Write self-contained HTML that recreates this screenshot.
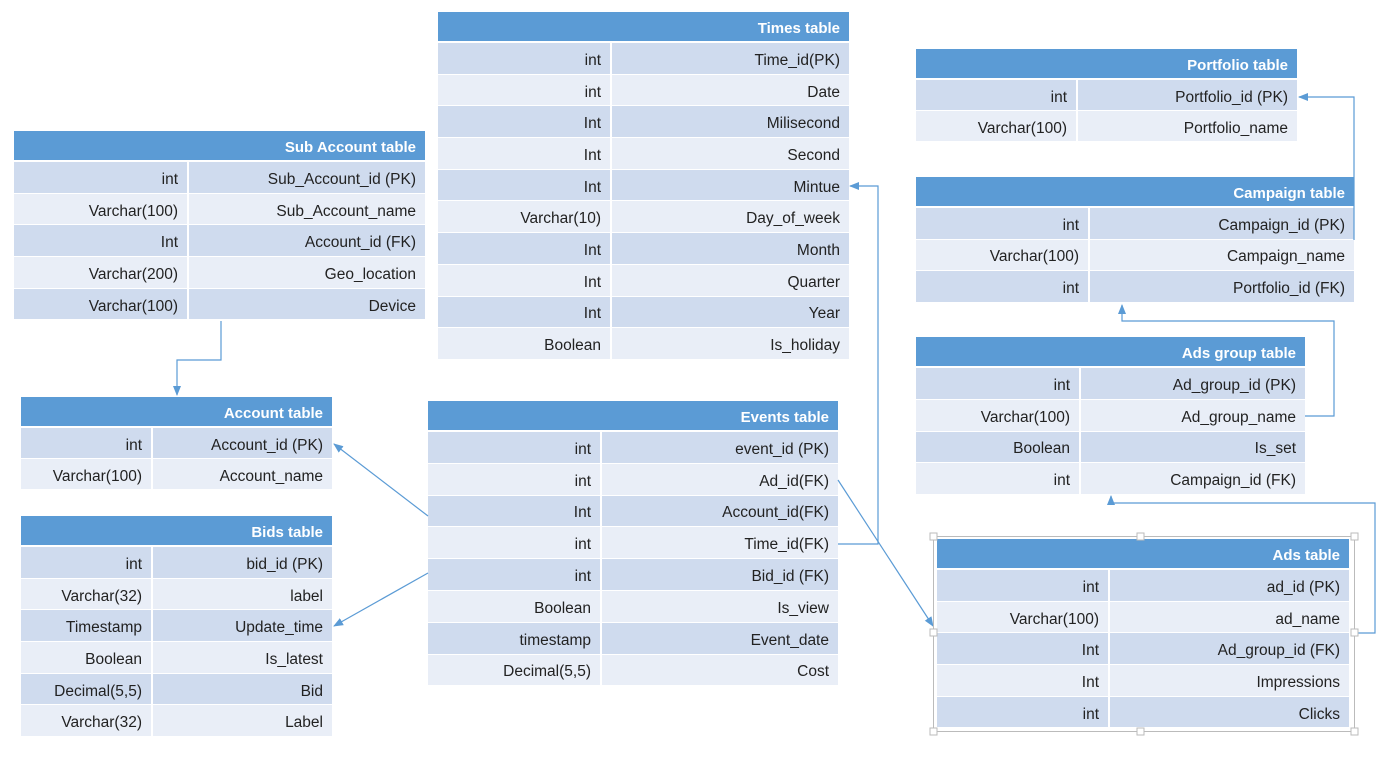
<!DOCTYPE html>
<html><head><meta charset="utf-8"><style>
body{margin:0;width:1391px;height:773px;background:#fff;position:relative;overflow:hidden;font-family:"Liberation Sans",Arial,sans-serif;}
.t{position:absolute;}
.h{background:#5B9BD5;color:#fff;font-weight:bold;font-size:15px;text-align:right;box-sizing:border-box;padding-right:9px;padding-top:2px;height:29px;line-height:30px;margin-bottom:2px;}
.r{display:flex;font-size:15.5px;color:#222;box-sizing:border-box;}
.r div{box-sizing:border-box;text-align:right;padding-right:9px;padding-top:5px;display:flex;align-items:center;justify-content:flex-end;}
.r div:first-child{border-right:2px solid #fff;}
.r:nth-of-type(even){background:#CFDBEE;}
.r:nth-of-type(odd){background:#E9EEF7;}
.r{border-bottom:1px solid #fff;}
svg{position:absolute;left:0;top:0;}
</style></head><body>
<div id="c"></div>
<svg width="1391" height="773">
<defs><marker id="a" markerWidth="10" markerHeight="10" refX="9" refY="5" orient="auto" markerUnits="userSpaceOnUse"><path d="M0,1 L10,5 L0,9 z" fill="#5B9BD5"/></marker></defs>
<g fill="none" stroke="#5B9BD5" stroke-width="1.2">
<polyline points="221,321 221,360 177,360 177,395" marker-end="url(#a)"/>
<line x1="428" y1="516" x2="334" y2="444" marker-end="url(#a)"/>
<line x1="428" y1="573" x2="334" y2="626" marker-end="url(#a)"/>
<line x1="838" y1="480" x2="933" y2="626" marker-end="url(#a)"/>
<polyline points="838,544 878,544 878,186 850,186" marker-end="url(#a)"/>
<polyline points="1354,240 1354,97 1299,97" marker-end="url(#a)"/>
<polyline points="1305,416 1334,416 1334,321 1122,321 1122,305" marker-end="url(#a)"/>
<polyline points="1354,633 1375,633 1375,503 1111,503 1111,496" marker-end="url(#a)"/>
</g>
<g fill="#fff" stroke="#bbb" stroke-width="1">
<rect x="933.5" y="536.5" width="421" height="195" fill="none"/>
<rect x="930" y="533" width="7" height="7"/><rect x="1137" y="533" width="7" height="7"/><rect x="1351" y="533" width="7" height="7"/>
<rect x="930" y="629" width="7" height="7"/><rect x="1351" y="629" width="7" height="7"/>
<rect x="930" y="728" width="7" height="7"/><rect x="1137" y="728" width="7" height="7"/><rect x="1351" y="728" width="7" height="7"/>
</g>
</svg>
<script>
const T=[
["Times table",438,12,411,174,31.7,[["int","Time_id(PK)"],["int","Date"],["Int","Milisecond"],["Int","Second"],["Int","Mintue"],["Varchar(10)","Day_of_week"],["Int","Month"],["Int","Quarter"],["Int","Year"],["Boolean","Is_holiday"]]],
["Sub Account table",14,131,411,175,31.7,[["int","Sub_Account_id (PK)"],["Varchar(100)","Sub_Account_name"],["Int","Account_id (FK)"],["Varchar(200)","Geo_location"],["Varchar(100)","Device"]]],
["Account table",21,397,311,132,31.2,[["int","Account_id (PK)"],["Varchar(100)","Account_name"]]],
["Bids table",21,516,311,132,31.7,[["int","bid_id (PK)"],["Varchar(32)","label"],["Timestamp","Update_time"],["Boolean","Is_latest"],["Decimal(5,5)","Bid"],["Varchar(32)","Label"]]],
["Events table",428,401,410,174,31.8,[["int","event_id (PK)"],["int","Ad_id(FK)"],["Int","Account_id(FK)"],["int","Time_id(FK)"],["int","Bid_id (FK)"],["Boolean","Is_view"],["timestamp","Event_date"],["Decimal(5,5)","Cost"]]],
["Portfolio table",916,49,381,162,31.2,[["int","Portfolio_id (PK)"],["Varchar(100)","Portfolio_name"]]],
["Campaign table",916,177,438,174,31.5,[["int","Campaign_id (PK)"],["Varchar(100)","Campaign_name"],["int","Portfolio_id (FK)"]]],
["Ads group table",916,337,389,165,31.8,[["int","Ad_group_id (PK)"],["Varchar(100)","Ad_group_name"],["Boolean","Is_set"],["int","Campaign_id (FK)"]]],
["Ads table",937,539,412,173,31.7,[["int","ad_id (PK)"],["Varchar(100)","ad_name"],["Int","Ad_group_id (FK)"],["Int","Impressions"],["int","Clicks"]]]
];
let h="";
for(const [n,x,y,w,s,rh,rows] of T){
 h+=`<div class="t" style="left:${x}px;top:${y}px;width:${w}px"><div class="h">${n}</div>`;
 for(const r of rows) h+=`<div class="r" style="height:${rh}px"><div style="width:${s}px">${r[0]}</div><div style="flex:1">${r[1]}</div></div>`;
 h+="</div>";
}
document.getElementById("c").innerHTML=h;
</script>
</body></html>
